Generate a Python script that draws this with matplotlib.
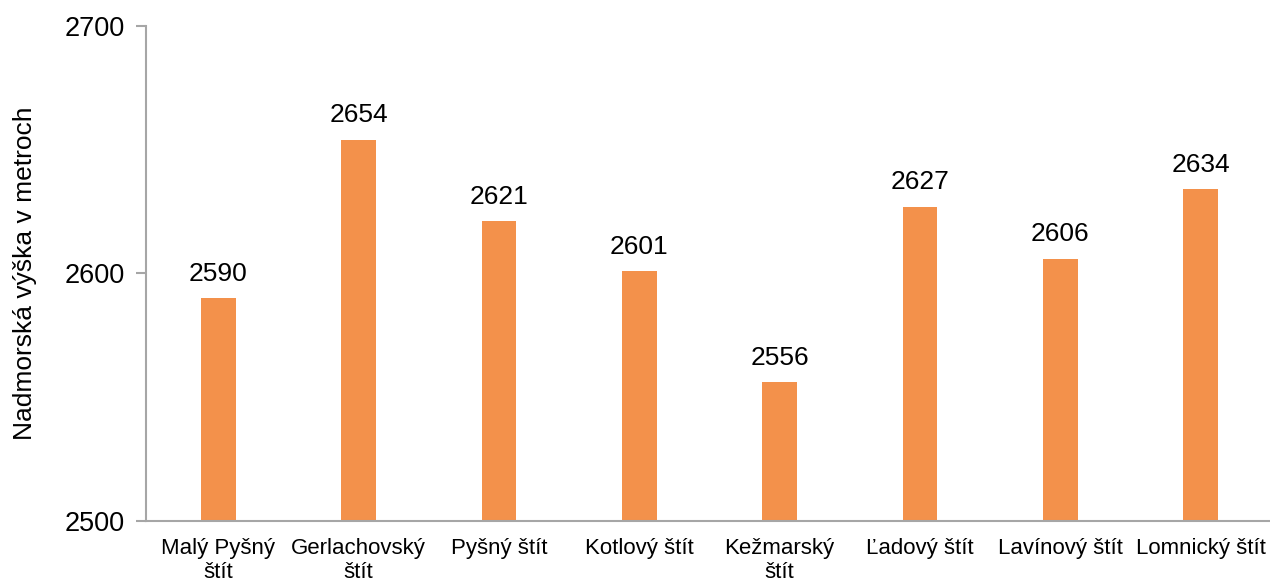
import matplotlib.pyplot as plt

plt.rcParams['font.family'] = ['Liberation Sans', 'DejaVu Sans']

peaks = ["Malý Pyšný\nštít", "Gerlachovský\nštít", "Pyšný štít", "Kotlový štít",
         "Kežmarský\nštít", "Ľadový štít", "Lavínový štít", "Lomnický štít"]
heights = [2590, 2654, 2621, 2601, 2556, 2627, 2606, 2634]
yticks = [2500, 2600, 2700]

fig = plt.figure(figsize=(12.7, 5.85), dpi=100)
ax = fig.add_axes([0.115, 0.109, 0.884, 0.847])

x = range(len(peaks))
bars = ax.bar(x, heights, width=0.245, color='#F3914B', zorder=2)
for i, h in zip(x, heights):
    ax.text(i, h + 5, str(h), ha='center', va='bottom', fontsize=19)

ax.set_ylim(2500, 2700)
ax.set_xlim(-0.515, len(peaks) - 0.515)
ax.set_yticks(yticks)
ax.set_xticks(list(x))
ax.set_xticklabels(peaks, fontsize=16, linespacing=1.2)
ax.tick_params(axis='y', labelsize=19.5, length=7, color='#A6A6A6', width=1.5, pad=8)
ax.tick_params(axis='x', length=0, pad=12)
ax.set_ylabel("Nadmorská výška v metroch", fontsize=19, labelpad=20)

for s in ['top', 'right']:
    ax.spines[s].set_visible(False)
for s in ['left', 'bottom']:
    ax.spines[s].set_color('#A6A6A6')
    ax.spines[s].set_linewidth(1.5)

fig.savefig('out.png', dpi=100)
